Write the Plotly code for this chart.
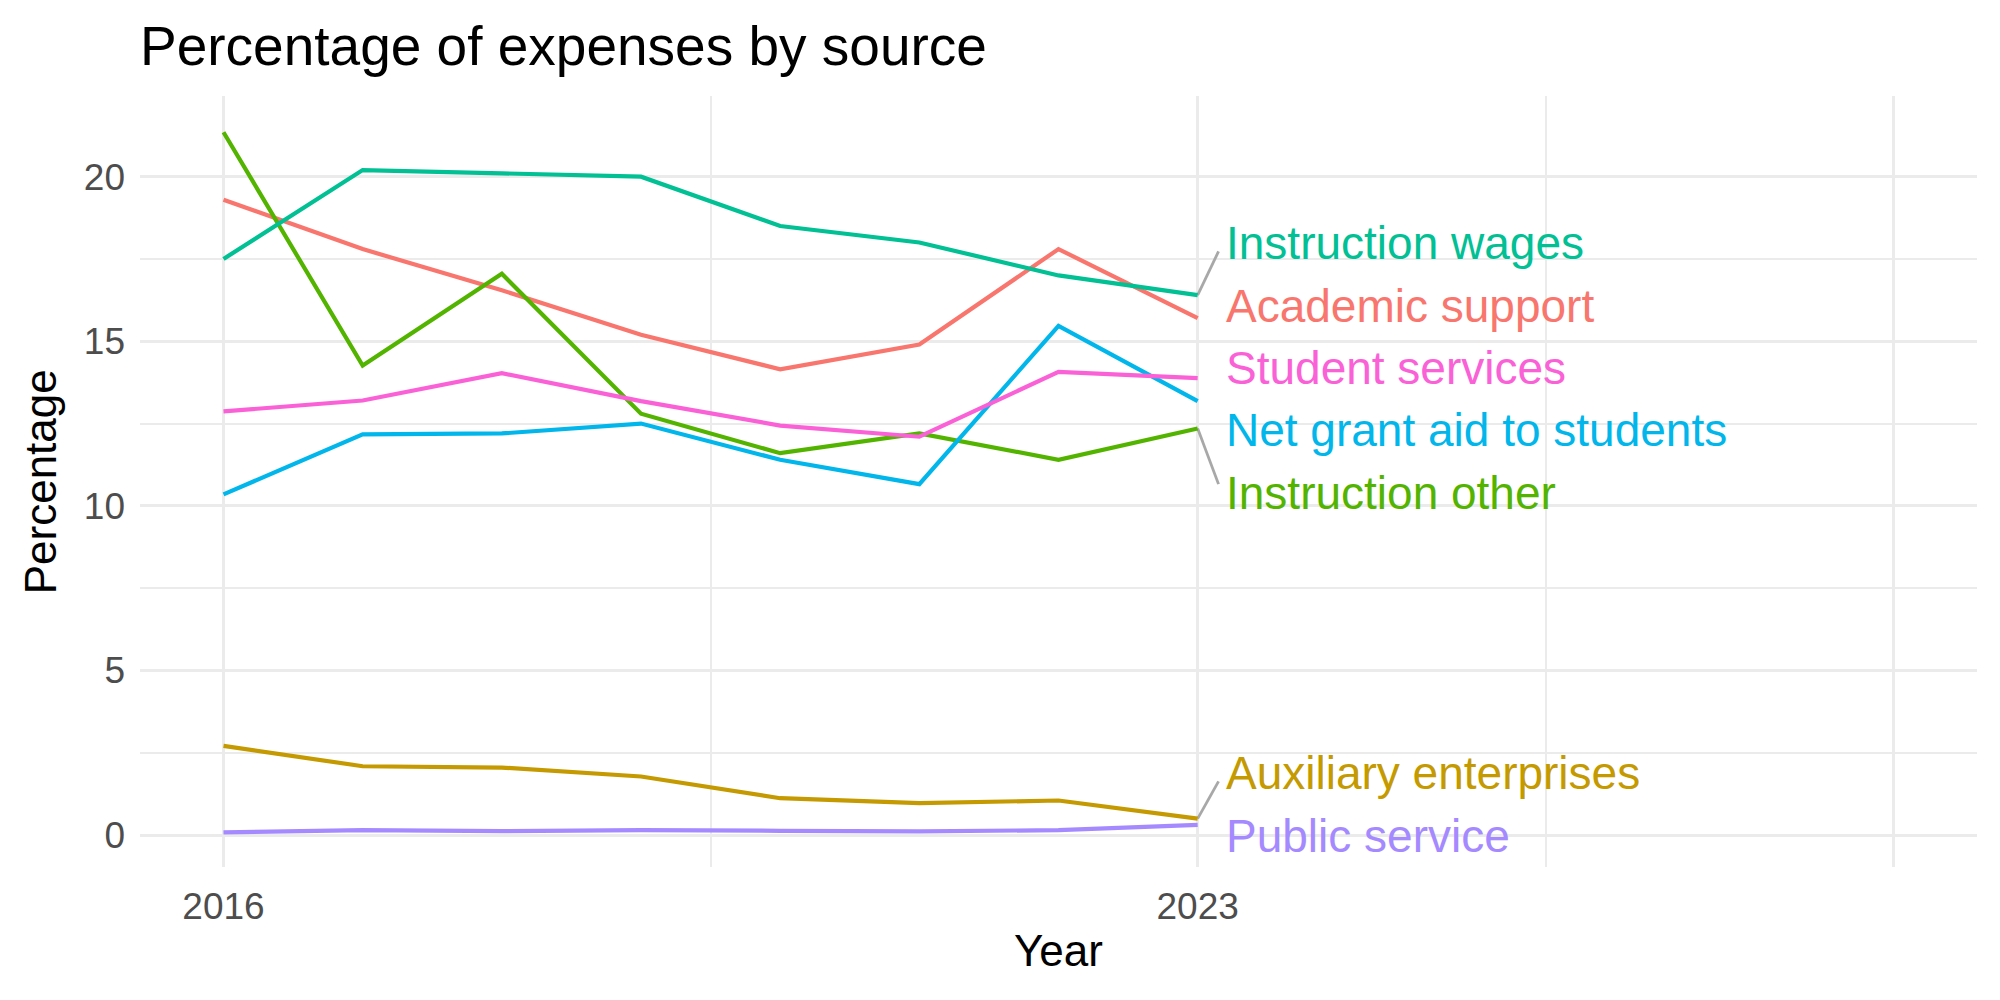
import plotly.graph_objects as go

years = [2016, 2017, 2018, 2019, 2020, 2021, 2022, 2023]

series_names = [
    "Academic support",
    "Auxiliary enterprises",
    "Instruction other",
    "Instruction wages",
    "Net grant aid to students",
    "Public service",
    "Student services",
]
colors = ["#F8766D", "#C49A00", "#53B400", "#00C094", "#00B6EB", "#A58AFF", "#FB61D7"]

academic_support = [19.3, 17.8, 16.55, 15.2, 14.15, 14.9, 17.8, 15.7]
auxiliary_enterprises = [2.71, 2.09, 2.05, 1.78, 1.12, 0.97, 1.05, 0.5]
instruction_other = [21.35, 14.26, 17.05, 12.8, 11.6, 12.2, 11.4, 12.35]
instruction_wages = [17.5, 20.2, 20.1, 20.0, 18.5, 18.0, 17.0, 16.4]
net_grant_aid = [10.35, 12.17, 12.2, 12.5, 11.4, 10.66, 15.47, 13.18]
public_service = [0.08, 0.15, 0.12, 0.15, 0.13, 0.11, 0.15, 0.31]
student_services = [12.87, 13.2, 14.03, 13.18, 12.44, 12.1, 14.07, 13.88]

values = [academic_support, auxiliary_enterprises, instruction_other,
          instruction_wages, net_grant_aid, public_service, student_services]

# repelled label positions (y) for end-of-line labels
label_y = [16.08, 1.9, 10.39, 18.0, 12.29, -0.04, 14.19]
label_x = 2023.19

x_tickvals = [2016, 2023, 2028]
x_ticktext = ["2016", "2023", ""]
x_minor = [2019.5, 2025.5]
y_tickvals = [0, 5, 10, 15, 20]
y_minor = [2.5, 7.5, 12.5, 17.5]

FONT = "Liberation Sans, Arial, Helvetica, sans-serif"

fig = go.Figure()

# segments from last point to label
for name, vals, ly in zip(series_names, values, label_y):
    last = vals[-1]
    if abs(ly - last) > 1.0:
        sign = 1 if ly > last else -1
        fig.add_trace(go.Scatter(
            x=[years[-1], years[-1] + 0.15], y=[last, ly - sign * 0.27],
            mode="lines", line=dict(color="#A8A8A8", width=2.8),
            showlegend=False, hoverinfo="skip"))

for name, vals, col in zip(series_names, values, colors):
    fig.add_trace(go.Scatter(
        x=years, y=vals, mode="lines", name=name,
        line=dict(color=col, width=4.2), showlegend=False))

for name, col, ly in zip(series_names, colors, label_y):
    fig.add_annotation(x=label_x, y=ly, text=name, showarrow=False,
                       xanchor="left", yanchor="middle",
                       font=dict(family=FONT, size=46, color=col))

grid_major = "#EBEBEB"
fig.update_layout(
    width=2000, height=1000,
    paper_bgcolor="white", plot_bgcolor="white",
    margin=dict(l=140, r=23, t=96, b=133),
    font=dict(family=FONT),
    title=dict(text="Percentage of expenses by source", x=0, xref="paper",
               xanchor="left", y=0.954, yref="container", yanchor="middle",
               font=dict(family=FONT, size=55, color="black")),
    xaxis=dict(range=[2015.4, 2028.6], tickvals=x_tickvals, ticktext=x_ticktext,
               showgrid=True, gridcolor=grid_major, gridwidth=3.4,
               zeroline=False, showline=False, ticks="",
               tickfont=dict(family=FONT, size=37, color="#4D4D4D"),
               ticklabelstandoff=14,
               minor=dict(tickvals=x_minor, showgrid=True, gridcolor=grid_major,
                          gridwidth=2, ticks="")),
    yaxis=dict(range=[-0.97, 22.45], tickvals=y_tickvals,
               showgrid=True, gridcolor=grid_major, gridwidth=3.4,
               zeroline=False, showline=False, ticks="",
               tickfont=dict(family=FONT, size=37, color="#4D4D4D"),
               ticklabelstandoff=14,
               minor=dict(tickvals=y_minor, showgrid=True, gridcolor=grid_major,
                          gridwidth=2, ticks="")),
)

fig.add_annotation(text="Year", xref="paper", yref="paper", x=0.5, y=-0.108,
                   xanchor="center", yanchor="middle", showarrow=False,
                   font=dict(family=FONT, size=44, color="black"))
fig.add_annotation(text="Percentage", xref="paper", yref="paper", x=-0.054, y=0.5,
                   xanchor="center", yanchor="middle", showarrow=False, textangle=-90,
                   font=dict(family=FONT, size=44, color="black"))

fig.write_html("out.html")
